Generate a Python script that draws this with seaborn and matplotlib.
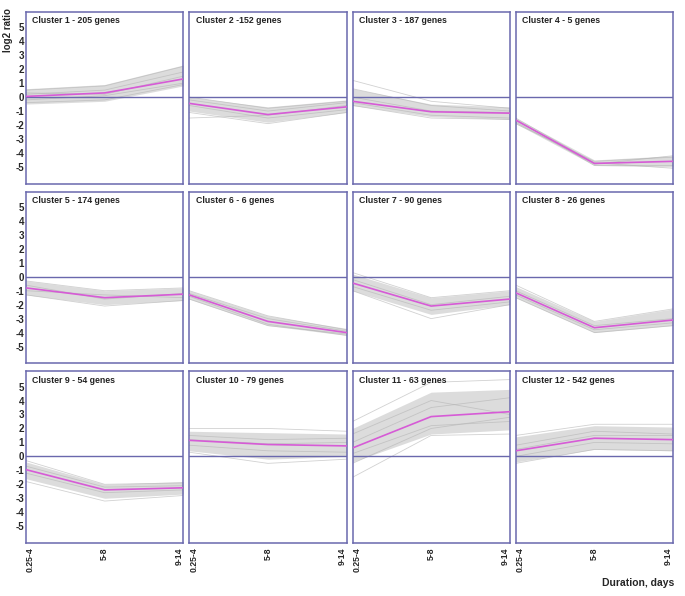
import numpy as np
import pandas as pd
import matplotlib
matplotlib.use("Agg")
import matplotlib.pyplot as plt
import seaborn as sns

# ---------------------------
# Data
# ---------------------------
time_labels = ["0.25-4", "5-8", "9-14"]

cluster_titles = [
    "Cluster 1 - 205 genes", "Cluster 2 -152 genes", "Cluster 3 - 187 genes", "Cluster 4 - 5 genes",
    "Cluster 5 - 174 genes", "Cluster 6 - 6 genes", "Cluster 7 - 90 genes", "Cluster 8 - 26 genes",
    "Cluster 9 - 54 genes", "Cluster 10 - 79 genes", "Cluster 11 - 63 genes", "Cluster 12 - 542 genes",
]

# cluster mean profiles (magenta)
cluster_means = [
    [0.05, 0.3, 1.3], [-0.45, -1.25, -0.7], [-0.3, -1.05, -1.15], [-1.65, -4.75, -4.6],
    [-0.8, -1.5, -1.25], [-1.3, -3.2, -4.0], [-0.45, -2.1, -1.6], [-1.15, -3.65, -3.1],
    [-0.95, -2.4, -2.25], [1.15, 0.85, 0.75], [0.6, 2.85, 3.2], [0.4, 1.3, 1.2],
]

# lower / upper edge of the grey band of gene profiles
band_lo = [
    [-0.5, -0.3, 0.8], [-1.0, -1.8, -1.1], [-0.6, -1.4, -1.6], [-1.9, -4.9, -5.0],
    [-1.3, -2.0, -1.7], [-1.6, -3.5, -4.2], [-1.0, -2.7, -2.0], [-1.5, -4.0, -3.5],
    [-1.6, -3.0, -2.7], [0.4, -0.2, 0.0], [-0.4, 1.6, 1.9], [-0.4, 0.5, 0.4],
]
band_hi = [
    [0.6, 0.9, 2.3], [0.0, -0.7, -0.2], [0.6, -0.5, -0.7], [-1.5, -4.5, -4.2],
    [-0.3, -1.0, -0.8], [-1.0, -2.8, -3.7], [0.2, -1.5, -1.0], [-0.7, -3.2, -2.3],
    [-0.4, -2.0, -1.8], [1.8, 1.7, 1.6], [2.0, 4.6, 4.8], [1.4, 2.2, 2.1],
]

# a few individual gene profiles per cluster (thin grey lines)
gene_profiles = [
    [[0.5, 0.8, 2.2], [-0.4, -0.2, 0.9], [0.2, 0.5, 1.8], [-0.2, 0.1, 1.0], [0.3, 0.2, 1.5]],
    [[0.0, -0.8, -0.3], [-1.1, -1.9, -1.1], [-0.6, -1.5, -0.9], [-0.2, -1.0, -0.4], [-1.5, -1.3, -0.6]],
    [[1.2, -0.3, -0.8], [0.6, -0.6, -1.0], [-0.6, -1.5, -1.6], [0.0, -1.0, -1.1], [-0.4, -1.3, -1.5]],
    [[-1.6, -4.9, -4.9], [-1.9, -4.6, -4.3], [-1.5, -4.7, -5.1], [-1.8, -4.8, -4.2]],
    [[-0.3, -1.0, -0.8], [-1.3, -2.1, -1.7], [-0.6, -1.6, -1.2], [-1.0, -1.3, -1.5]],
    [[-1.0, -2.8, -3.8], [-1.6, -3.5, -4.1], [-1.2, -3.0, -3.9], [-1.4, -3.4, -4.2]],
    [[0.3, -1.5, -1.0], [-1.0, -3.0, -2.0], [-0.2, -2.0, -1.4], [-0.7, -2.4, -1.8]],
    [[-0.6, -3.2, -2.3], [-1.5, -4.0, -3.5], [-1.0, -3.5, -3.0], [-1.3, -3.8, -3.3]],
    [[-0.3, -2.0, -1.9], [-1.8, -3.2, -2.8], [-1.2, -2.6, -2.4], [-0.7, -2.2, -2.1]],
    [[2.0, 2.0, 1.8], [0.3, -0.5, -0.2], [1.5, 1.2, 1.3], [0.8, 0.4, 0.3], [1.2, 0.9, 1.0]],
    [[-1.5, 1.5, 1.6], [2.5, 5.3, 5.5], [1.0, 3.5, 4.2], [0.2, 2.2, 2.5], [1.6, 4.0, 3.0], [-0.5, 2.0, 2.8]],
    [[-0.5, 0.5, 0.4], [1.5, 2.3, 2.3], [0.8, 1.8, 1.6], [0.0, 1.0, 0.9], [0.5, 1.5, 1.5]],
]

# ---------------------------
# Long-form tables
# ---------------------------
rows = []
for c, genes in enumerate(gene_profiles):
    for g, prof in enumerate(genes):
        for t, v in enumerate(prof):
            rows.append({"cluster": c, "gene": g, "t": t, "value": v})
genes_df = pd.DataFrame(rows)

mean_df = pd.DataFrame(
    [{"cluster": c, "t": t, "value": v} for c, prof in enumerate(cluster_means) for t, v in enumerate(prof)]
)

# ---------------------------
# Plot
# ---------------------------
sns.set_style("white")
plt.rcParams["font.family"] = ["Liberation Sans", "DejaVu Sans"]

frame_col = "#6a68ad"
grey = "#b3b3b3"
magenta = "#d65bd6"

fig, axes = plt.subplots(3, 4, figsize=(6.85, 5.96), dpi=100, sharex=True, sharey=True)
fig.subplots_adjust(left=0.038, right=0.9825, top=0.980, bottom=0.089, wspace=0.038, hspace=0.046)

for c, ax in enumerate(axes.flat):
    lo = np.array(band_lo[c])
    hi = np.array(band_hi[c])
    ax.fill_between(range(3), lo, hi, color=grey, alpha=0.45, lw=0)
    sns.lineplot(data=genes_df[genes_df.cluster == c], x="t", y="value", units="gene",
                 estimator=None, color=grey, alpha=0.6, lw=0.6, ax=ax)
    ax.axhline(0, color=frame_col, lw=1.0, zorder=3)
    sns.lineplot(data=mean_df[mean_df.cluster == c], x="t", y="value",
                 color=magenta, lw=1.2, ax=ax, zorder=4)

    ax.set_xlim(0, 2)
    ax.set_ylim(-6.2, 6.1)
    ax.set_xticks([0, 1, 2])
    ax.set_yticks(range(-5, 6))
    ax.set_xlabel("")
    ax.set_ylabel("")
    ax.text(0.04, 0.975, cluster_titles[c], transform=ax.transAxes, ha="left", va="top",
            fontsize=6.3, fontweight="bold", color="#222222")
    for s in ax.spines.values():
        s.set_color(frame_col)
        s.set_linewidth(1.1)
    ax.tick_params(axis="both", direction="in", length=3, width=0.7, color="#555555",
                   labelsize=7)
    ax.tick_params(axis="y", pad=1.5)
    ax.tick_params(axis="x", labelrotation=90, pad=3)

for ax in axes[:, 0]:
    ax.set_yticklabels([str(v) for v in range(-5, 6)], fontweight="bold")
for ax in axes[-1, :]:
    ax.set_xticklabels(time_labels, fontweight="bold", fontsize=6.2)
    labs = ax.get_xticklabels()
    labs[0].set_horizontalalignment("left")
    labs[2].set_horizontalalignment("right")

fig.text(0.012, 0.95, "log2 ratio", rotation=90, ha="center", va="center",
         fontsize=7, fontweight="bold")
fig.text(0.985, 0.022, "Duration, days", ha="right", va="center",
         fontsize=7.5, fontweight="bold")

fig.savefig("out.png", dpi=100)
